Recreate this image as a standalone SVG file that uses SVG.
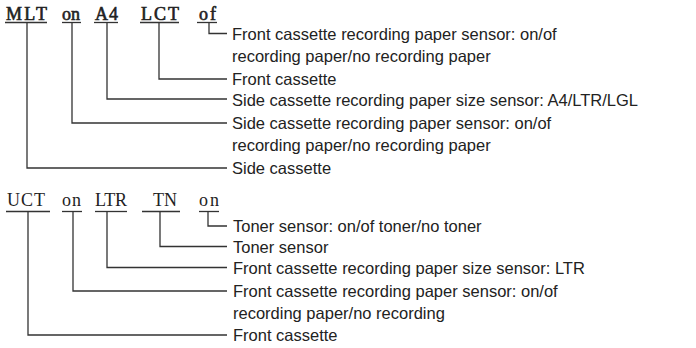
<svg xmlns="http://www.w3.org/2000/svg" width="696" height="348" viewBox="0 0 696 348">
  <style>
    .code { font-family: "Liberation Serif", "Times New Roman", serif; font-size: 18px; fill: #222; }
    .bold { stroke: #222; stroke-width: 0.6; }
    .lbl { font-family: "Liberation Sans", Arial, sans-serif; font-size: 16.5px; fill: #222; }
    .ul { stroke: #333; stroke-width: 1.3; fill: none; }
    .con { stroke: #333; stroke-width: 1.3; fill: none; }
  </style>
  <rect width="696" height="348" fill="#ffffff"/>

  <g id="code-MLT">
    <text class="code bold" x="6" y="19.5" textLength="41" lengthAdjust="spacing">MLT</text>
    <line class="ul" x1="5" y1="22.5" x2="47" y2="22.5"/>
  </g>
  <g id="code-on-1">
    <text class="code bold" x="62" y="19.5" textLength="18" lengthAdjust="spacing">on</text>
    <line class="ul" x1="62" y1="22.5" x2="81" y2="22.5"/>
  </g>
  <g id="code-A4">
    <text class="code bold" x="95" y="19.5" textLength="23" lengthAdjust="spacing">A4</text>
    <line class="ul" x1="94" y1="22.5" x2="118" y2="22.5"/>
  </g>
  <g id="code-LCT">
    <text class="code bold" x="141" y="19.5" textLength="38" lengthAdjust="spacing">LCT</text>
    <line class="ul" x1="140" y1="22.5" x2="179" y2="22.5"/>
  </g>
  <g id="code-of">
    <text class="code bold" x="199" y="19.5" textLength="17" lengthAdjust="spacing">of</text>
    <line class="ul" x1="197" y1="22.5" x2="217" y2="22.5"/>
  </g>

  <g id="code-UCT">
    <text class="code" x="7" y="205.5" textLength="38" lengthAdjust="spacing">UCT</text>
    <line class="ul" x1="6" y1="211.5" x2="50" y2="211.5"/>
  </g>
  <g id="code-on-2">
    <text class="code" x="62" y="205.5" textLength="19" lengthAdjust="spacing">on</text>
    <line class="ul" x1="62" y1="211.5" x2="82" y2="211.5"/>
  </g>
  <g id="code-LTR">
    <text class="code" x="95" y="205.5" textLength="32" lengthAdjust="spacing">LTR</text>
    <line class="ul" x1="95" y1="211.5" x2="127" y2="211.5"/>
  </g>
  <g id="code-TN">
    <text class="code" x="153" y="205.5" textLength="24" lengthAdjust="spacing">TN</text>
    <line class="ul" x1="142" y1="211.5" x2="180" y2="211.5"/>
  </g>
  <g id="code-on-3">
    <text class="code" x="199" y="205.5" textLength="20" lengthAdjust="spacing">on</text>
    <line class="ul" x1="199" y1="211.5" x2="219" y2="211.5"/>
  </g>

  <g id="label-front-sensor-1">
    <text class="lbl" x="232" y="40">Front cassette recording paper sensor: on/of</text>
    <text class="lbl" x="232" y="62">recording paper/no recording paper</text>
  </g>
  <g id="label-front-cassette-1">
    <text class="lbl" x="232" y="85">Front cassette</text>
  </g>
  <g id="label-side-size">
    <text class="lbl" x="232" y="106">Side cassette recording paper size sensor: A4/LTR/LGL</text>
  </g>
  <g id="label-side-sensor">
    <text class="lbl" x="232" y="129">Side cassette recording paper sensor: on/of</text>
    <text class="lbl" x="232" y="151">recording paper/no recording paper</text>
  </g>
  <g id="label-side-cassette">
    <text class="lbl" x="232" y="174">Side cassette</text>
  </g>

  <g id="label-toner-sensor-state">
    <text class="lbl" x="233" y="232">Toner sensor: on/of toner/no toner</text>
  </g>
  <g id="label-toner-sensor">
    <text class="lbl" x="233" y="253">Toner sensor</text>
  </g>
  <g id="label-front-size">
    <text class="lbl" x="233" y="274">Front cassette recording paper size sensor: LTR</text>
  </g>
  <g id="label-front-sensor-2">
    <text class="lbl" x="233" y="297">Front cassette recording paper sensor: on/of</text>
    <text class="lbl" x="233" y="319">recording paper/no recording</text>
  </g>
  <g id="label-front-cassette-2">
    <text class="lbl" x="233" y="341">Front cassette</text>
  </g>

  <g id="connectors">
    <path class="con" d="M27 22.5 V168 H227"/>
    <path class="con" d="M72 22.5 V123 H227"/>
    <path class="con" d="M107 22.5 V99 H227"/>
    <path class="con" d="M159 22.5 V79 H227"/>
    <path class="con" d="M209 22.5 V33.5 H227"/>
    <path class="con" d="M28 211.5 V335 H227"/>
    <path class="con" d="M73 211.5 V291 H227"/>
    <path class="con" d="M107 211.5 V267.5 H227"/>
    <path class="con" d="M160 211.5 V246.5 H227"/>
    <path class="con" d="M208 211.5 V226 H227"/>
  </g>
</svg>
